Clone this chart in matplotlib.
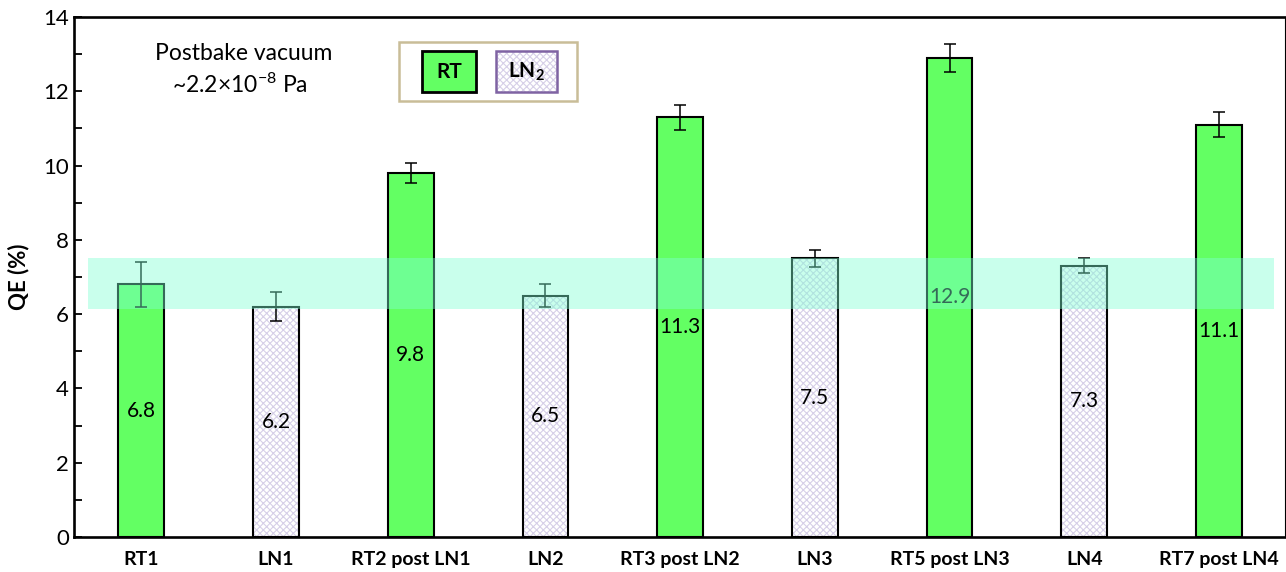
import matplotlib
matplotlib.use("Agg")
import matplotlib.pyplot as plt
from matplotlib.patches import Rectangle
from matplotlib.ticker import MultipleLocator

plt.rcParams['font.family'] = ['Lato', 'DejaVu Sans']
plt.rcParams['mathtext.fontset'] = 'custom'
plt.rcParams['mathtext.rm'] = 'Lato'
plt.rcParams['mathtext.it'] = 'Lato:italic'
plt.rcParams['mathtext.bf'] = 'Lato:bold'
plt.rcParams['hatch.linewidth'] = 0.8

# Measurement data
samples = ["RT1", "LN1", "RT2 post LN1", "LN2", "RT3 post LN2",
           "LN3", "RT5 post LN3", "LN4", "RT7 post LN4"]
qe = [6.8, 6.2, 9.8, 6.5, 11.3, 7.5, 12.9, 7.3, 11.1]
qe_err = [0.6, 0.39, 0.27, 0.32, 0.34, 0.22, 0.38, 0.2, 0.33]
condition = ["RT", "LN2", "RT", "LN2", "RT", "LN2", "RT", "LN2", "RT"]
band_range = (6.15, 7.5)

green = "#63ff63"
hatch_col = "#d6cfe8"

fig = plt.figure(figsize=(12.86, 5.72), dpi=100)
ax = fig.add_axes([74 / 1286, 1 - 537 / 572, (1285 - 74) / 1286, (537 - 17) / 572])

x = list(range(len(samples)))
width = 0.34
for xi, v, c in zip(x, qe, condition):
    if c == "RT":
        ax.bar(xi, v, width=width, color=green, edgecolor="black", linewidth=1.5, zorder=2)
    else:
        ax.bar(xi, v, width=width, color="white", edgecolor=hatch_col, hatch="xxxxx",
               linewidth=0, zorder=2)
        ax.bar(xi, v, width=width, fill=False, edgecolor="black", linewidth=1.5, zorder=2.1)

ax.errorbar(x, qe, yerr=qe_err, fmt="none", ecolor="black", elinewidth=1.1,
            capsize=4.5, capthick=1.1, zorder=3)

# Value labels at mid-height of each bar
for xi, v in zip(x, qe):
    ax.text(xi, v / 2, f"{v:.1f}", ha="center", va="center", fontsize=15, zorder=4)

# Highlighted QE range
ax.add_patch(Rectangle((-0.393, band_range[0]), 8.41 + 0.393, band_range[1] - band_range[0],
                       facecolor="#7fffd4", alpha=0.42, edgecolor="none", zorder=5))

ax.set_xlim(-0.5, 8.49)
ax.set_ylim(0, 14)
ax.set_xticks(x)
ax.set_xticklabels(samples, fontsize=14, fontweight="bold")
ax.tick_params(axis="x", length=0, pad=10)
ax.yaxis.set_major_locator(MultipleLocator(2))
ax.yaxis.set_minor_locator(MultipleLocator(1))
ax.tick_params(axis="y", which="both", direction="in", length=6, width=1.3, labelsize=16)
ax.set_ylabel("QE (%)", fontsize=16, fontweight="bold", labelpad=10)

for s in ("left", "top", "bottom"):
    ax.spines[s].set_linewidth(1.9)
ax.spines["right"].set_linewidth(0.8)

# Annotation
ax.text(244, 572 - 53, "Postbake vacuum", transform=None, ha="center", va="center", fontsize=16.5)
ax.text(240, 572 - 85, r"~2.2×10$^{-8}$ Pa", transform=None, ha="center", va="center", fontsize=16.5)

# Legend built from boxed labels
def px_rect(x0, y0, x1, y1, **kw):
    r = Rectangle((x0, 572 - y1), x1 - x0, y1 - y0, transform=None, **kw)
    fig.add_artist(r)
    return r

px_rect(399, 42, 577, 101, facecolor="white", edgecolor="#c9bd98", linewidth=1.8, zorder=10)
px_rect(422, 51, 476, 92, facecolor=green, edgecolor="black", linewidth=2, zorder=11)
px_rect(496, 51, 557, 92, facecolor="white", edgecolor=hatch_col, hatch="xxxxx", linewidth=0, zorder=11)
px_rect(496, 51, 557, 92, fill=False, edgecolor="#7f63a3", linewidth=1.8, zorder=12)
fig.text(449 / 1286, 1 - 72 / 572, "RT", ha="center", va="center", fontsize=15,
         fontweight="bold", zorder=13)
fig.text(526 / 1286, 1 - 72 / 572, r"LN$_\mathbf{2}$", ha="center", va="center", fontsize=15,
         fontweight="bold", zorder=13)

fig.savefig("out.png", dpi=100)
